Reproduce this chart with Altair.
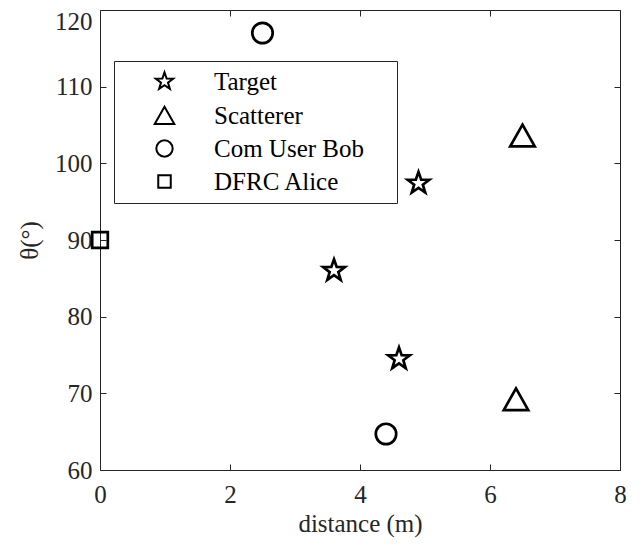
import math
import altair as alt
import pandas as pd

# ---- data ----
categories = ["Target", "Target", "Target", "Scatterer", "Scatterer",
              "Com User Bob", "Com User Bob", "DFRC Alice"]
distance = [3.6, 4.6, 4.9, 6.4, 6.5, 2.5, 4.4, 0.0]
theta = [86.0, 74.5, 97.4, 69.2, 103.6, 117.0, 64.7, 90.0]
legend_order = ["Target", "Scatterer", "Com User Bob", "DFRC Alice"]
x_ticks = [0, 2, 4, 6, 8]
y_ticks = [60, 70, 80, 90, 100, 110, 120]

df = pd.DataFrame({"category": categories, "distance": distance, "theta": theta})


# ---- marker shapes (unit paths) ----
def star_path(R=0.95, ratio=0.40):
    pts = []
    for k in range(10):
        ang = math.radians(-90 + 36 * k)
        rad = R if k % 2 == 0 else R * ratio
        pts.append(f"{rad * math.cos(ang):.4f},{rad * math.sin(ang):.4f}")
    return "M" + " L".join(pts) + " Z"


STAR = star_path()
TRI = "M0,-0.92 L1.02,0.88 L-1.02,0.88 Z"
CIRC = "M0.85,0 A0.85,0.85 0 1,1 -0.85,0 A0.85,0.85 0 1,1 0.85,0 Z"
SQR = "M-0.65,-0.65 L0.65,-0.65 L0.65,0.65 L-0.65,0.65 Z"

FONT = "Liberation Serif"
INK = "#262626"
TICK = alt.ExprRef(expr="-6")

x_scale = alt.Scale(domain=[0, 8], nice=False, zero=False)
y_scale = alt.Scale(domain=[60, 120], nice=False, zero=False)

points = alt.Chart(df).mark_point(
    filled=False, color="black", strokeWidth=2.7, opacity=1, size=576, clip=False
).encode(
    x=alt.X("distance:Q", scale=x_scale,
            axis=alt.Axis(values=x_ticks, title="distance (m)", tickSize=TICK,
                          labelPadding=18, titlePadding=4, domain=False,
                          grid=False, labelFlush=False)),
    y=alt.Y("theta:Q", scale=y_scale,
            axis=alt.Axis(values=y_ticks, title="θ(°)", tickSize=TICK,
                          labelPadding=14, titlePadding=12, domain=False,
                          grid=False, labelFlush=False,
                          labelOffset={"condition": {"test": "datum.value >= 120", "value": 11},
                                       "value": 0})),
    shape=alt.Shape("category:N",
                    scale=alt.Scale(domain=legend_order, range=[STAR, TRI, CIRC, SQR]),
                    legend=alt.Legend(
                        title=None, orient="none", legendX=14, legendY=51,
                        padding=8, rowPadding=7, symbolSize=369,
                        symbolStrokeWidth=2, symbolStrokeColor="black",
                        symbolFillColor="transparent", symbolOffset=30,
                        labelOffset=37, labelFontSize=25, labelFont=FONT,
                        labelColor="black", labelLimit=400,
                        labelExpr="datum.label + '\u2003\u200b'",
                        strokeColor=INK, fillColor="white")),
)

frame_ticks = alt.Chart(df).mark_point(opacity=0, size=1).encode(
    x=alt.X("distance:Q", scale=x_scale,
            axis=alt.Axis(orient="top", values=x_ticks, labels=False, title=None,
                          tickSize=TICK, domain=False, grid=False)),
    y=alt.Y("theta:Q", scale=y_scale,
            axis=alt.Axis(orient="right", values=y_ticks, labels=False, title=None,
                          tickSize=TICK, domain=False, grid=False)),
)

chart = alt.layer(frame_ticks, points).resolve_axis(
    x="independent", y="independent"
).properties(
    width=520, height=460,
    background="white",
    autosize=alt.AutoSizeParams(type="none"),
    padding={"left": 92, "top": 2, "right": 14, "bottom": 68},
).configure_view(
    stroke=INK, strokeWidth=1
).configure_axis(
    labelFont=FONT, titleFont=FONT, labelFontSize=25, titleFontSize=25,
    labelColor=INK, titleColor=INK, tickColor=INK, tickWidth=1,
    titleFontWeight="normal"
)

chart.save("out.html", embed_options={"renderer": "svg", "actions": False})
